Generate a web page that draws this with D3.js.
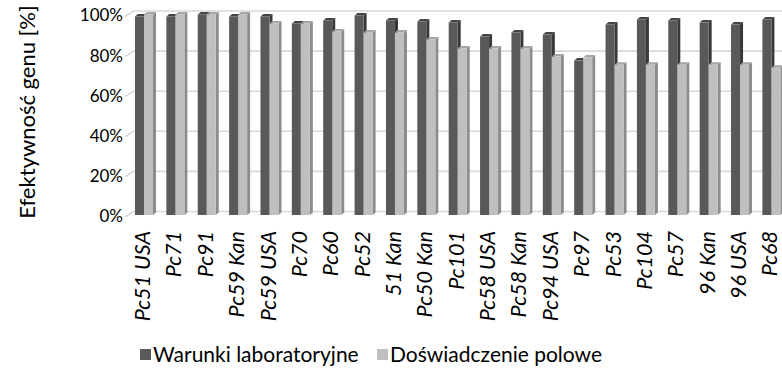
<!DOCTYPE html>
<html>
<head>
<meta charset="utf-8">
<script src="https://cdn.jsdelivr.net/npm/d3@7"></script>
<style>
  html, body { margin: 0; padding: 0; background: #ffffff; }
  svg { display: block; }
</style>
</head>
<body>
<svg id="chart" width="782" height="380"></svg>
<script>
// ---- data ----
const categories = ["Pc51 USA","Pc71","Pc91","Pc59 Kan","Pc59 USA","Pc70","Pc60","Pc52","51 Kan","Pc50 Kan","Pc101","Pc58 USA","Pc58 Kan","Pc94 USA","Pc97","Pc53","Pc104","Pc57","96 Kan","96 USA","Pc68"];
const labValues   = [99, 99, 100, 99, 99, 95.5, 97, 99.5, 97, 96.5, 96, 89, 91, 90, 77, 95, 97.5, 97, 96, 95, 97.5];
const fieldValues = [100, 100, 100, 100, 95.5, 95.5, 91.5, 91, 91, 87.5, 83, 83, 83, 79, 78.5, 75, 75, 75, 75, 75, 73.5];
const seriesNames = ["Warunki laboratoryjne", "Doświadczenie polowe"];
const yTickValues = [0, 20, 40, 60, 80, 100];
const yTickLabels = ["0%", "20%", "40%", "60%", "80%", "100%"];
const yTitle = "Efektywność genu [%]";

// ---- styles ----
const FONT = "Lato, 'Open Sans', sans-serif";
const colors = {
  front: ["#595959", "#bfbfbf"],
  side:  ["#383838", "#8c8c8c"],
  top:   ["#444444", "#a5a5a5"]
};

const svg = d3.select("#chart");

// scales
const base = 215;
const y = d3.scaleLinear().domain([0, 100]).range([base, 14.5]);
const step = 31.37, padIn = 0.426;
const x0 = 135 - step * padIn / 2;
const x = d3.scaleBand().domain(categories)
  .range([x0, x0 + step * categories.length])
  .paddingInner(padIn).paddingOuter(padIn / 2);
const xs = d3.scaleBand().domain([0, 1]).range([0, x.bandwidth()]);

// wall / gridlines
const wallDy = 3.5, slantDx = 8.5, slantDy = 5.5;
const grid = svg.append("g");
yTickValues.forEach(v => {
  const yb = y(v) - wallDy;
  grid.append("path")
    .attr("d", `M125,${yb + slantDy}L${125 + slantDx},${yb}L782,${yb}`)
    .attr("fill", "none").attr("stroke", "#d9d9d9").attr("stroke-width", 1.6);
});

// y tick labels
const yAxisG = svg.append("g");
yTickValues.forEach((v, i) => {
  yAxisG.append("text")
    .attr("x", 123).attr("y", y(v) + 1)
    .attr("dy", "0.35em")
    .attr("text-anchor", "end")
    .attr("font-family", FONT).attr("font-size", 17)
    .attr("fill", "#000")
    .text(yTickLabels[i]);
});

// bars
const bdx = 3, bdy = 2.5;
const barsG = svg.append("g");
categories.forEach((c, i) => {
  [labValues[i], fieldValues[i]].forEach((v, s) => {
    const bx = x(c) + xs(s), w = xs.bandwidth(), yt = y(v);
    const g = barsG.append("g");
    g.append("path")
      .attr("d", `M${bx + w},${yt}L${bx + w + bdx},${yt - bdy}L${bx + w + bdx},${base - bdy}L${bx + w},${base}Z`)
      .attr("fill", colors.side[s]);
    g.append("path")
      .attr("d", `M${bx},${yt}L${bx + bdx},${yt - bdy}L${bx + w + bdx},${yt - bdy}L${bx + w},${yt}Z`)
      .attr("fill", colors.top[s]);
    g.append("rect")
      .attr("x", bx).attr("y", yt).attr("width", w).attr("height", base - yt)
      .attr("fill", colors.front[s]);
  });
});

// category labels
const catG = svg.append("g");
categories.forEach(c => {
  const cx = x(c) + x.bandwidth() / 2 - 1.5;
  catG.append("text")
    .attr("transform", `translate(${cx},231) rotate(-90)`)
    .attr("dy", "0.35em")
    .attr("text-anchor", "end")
    .attr("font-family", FONT).attr("font-style", "italic").attr("font-size", 21.5)
    .attr("fill", "#000")
    .text(c);
});

// y title
svg.append("text")
  .attr("transform", "translate(27,112) rotate(-90)")
  .attr("dy", "0.35em")
  .attr("text-anchor", "middle")
  .attr("font-family", FONT).attr("font-size", 22)
  .attr("fill", "#000")
  .text(yTitle);

// legend
const legendX = [140, 377];
const legend = svg.append("g");
seriesNames.forEach((name, s) => {
  legend.append("rect")
    .attr("x", legendX[s]).attr("y", 349).attr("width", 11).attr("height", 11)
    .attr("fill", colors.front[s]);
  legend.append("text")
    .attr("x", legendX[s] + 13).attr("y", 355)
    .attr("dy", "0.35em")
    .attr("font-family", FONT).attr("font-size", 21)
    .attr("fill", "#000")
    .text(name);
});
</script>
</body>
</html>
